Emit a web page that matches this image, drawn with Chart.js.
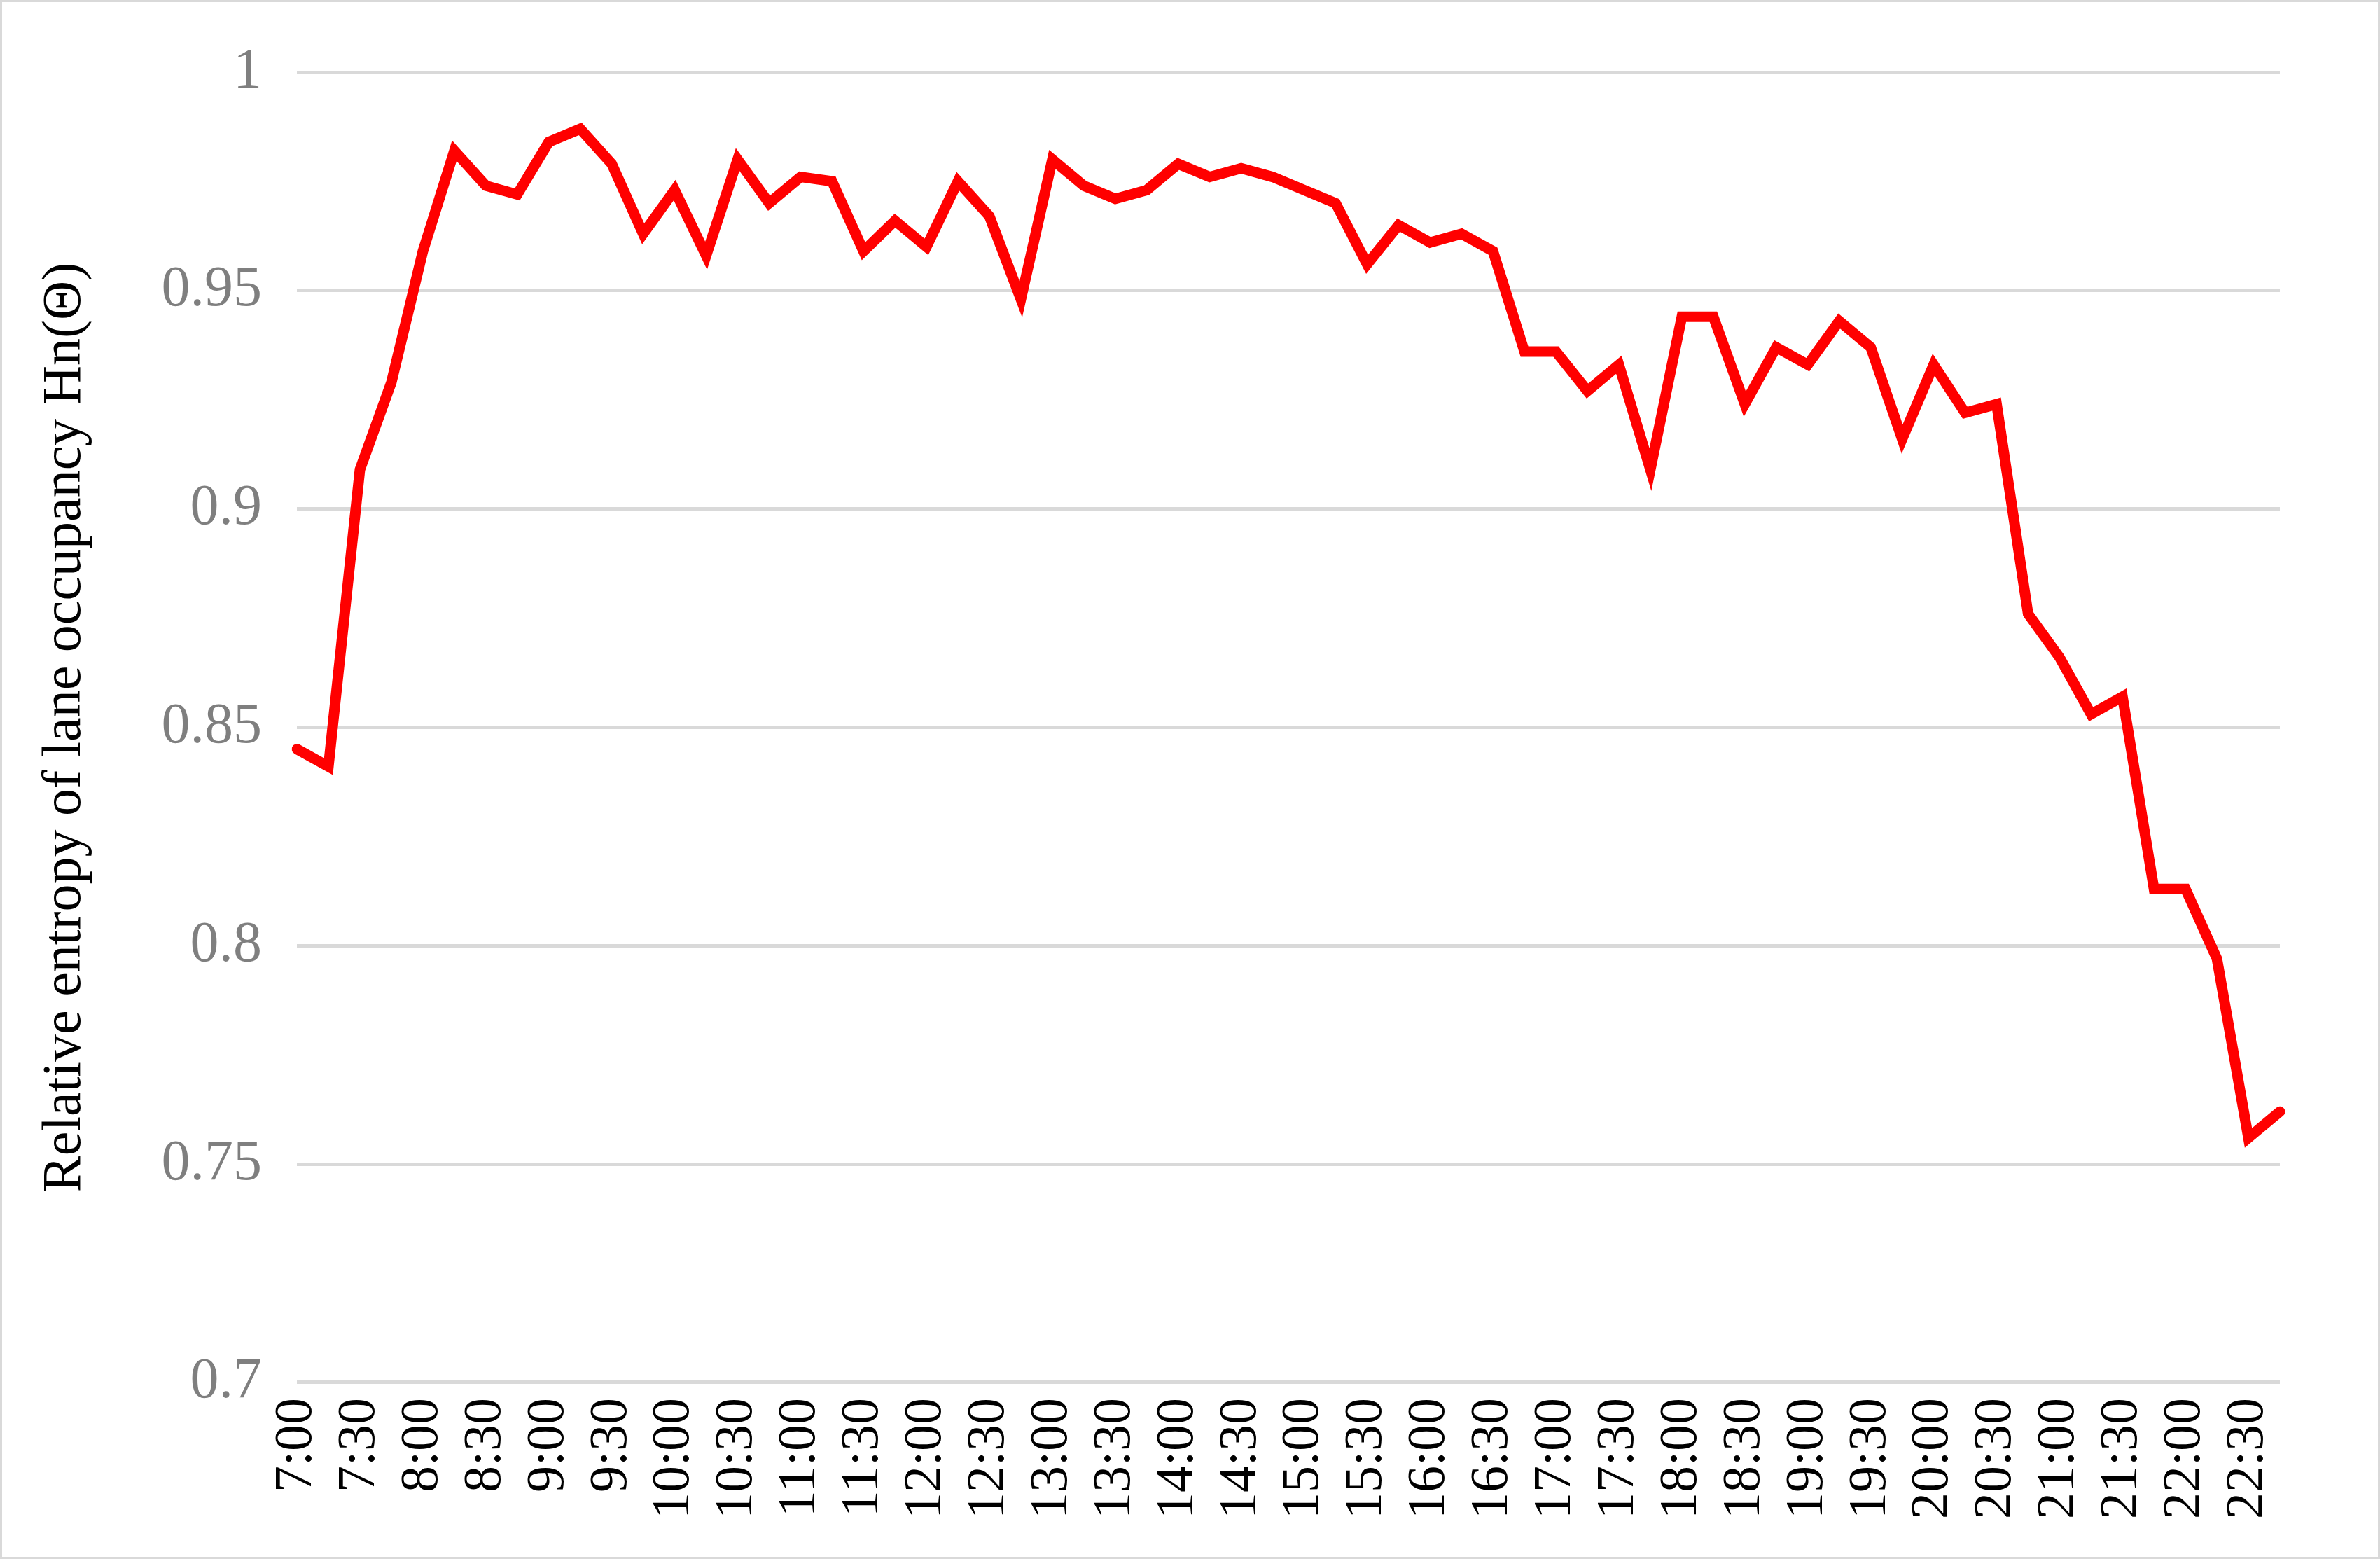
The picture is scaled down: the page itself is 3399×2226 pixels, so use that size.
<!DOCTYPE html>
<html><head><meta charset="utf-8">
<script src="https://cdn.jsdelivr.net/npm/chart.js@4/dist/chart.umd.min.js"></script>
<style>html,body{margin:0;padding:0;background:#fff}#wrap{position:absolute;left:0;top:0;width:3399px;height:2226px;box-sizing:border-box;border:3px solid #d9d9d9}</style>
</head><body><div id="wrap"><canvas id="c"></canvas></div>
<script>
const times = [];
for (let h = 7; h <= 22; h++) for (const m of ['00','15','30','45']) times.push(h + ':' + m);
const entropy = [0.845,0.841,0.909,0.929,0.959,0.982,0.974,0.972,0.984,0.987,0.979,0.963,0.973,0.958,0.980,0.970,
0.976,0.975,0.959,0.966,0.960,0.975,0.967,0.948,0.980,0.974,0.971,0.973,0.979,0.976,0.978,0.976,
0.973,0.970,0.956,0.965,0.961,0.963,0.959,0.936,0.936,0.927,0.933,0.909,0.944,0.944,0.924,0.937,
0.933,0.943,0.937,0.916,0.933,0.922,0.924,0.876,0.866,0.853,0.857,0.813,0.813,0.797,0.756,0.762];
const yTicks = [0.7,0.75,0.8,0.85,0.9,0.95,1];
new Chart(document.getElementById('c'), {
  type: 'line',
  data: { labels: times, datasets: [{ data: entropy, borderColor: '#ff0000', borderWidth: 15, pointRadius: 0, tension: 0, borderCapStyle:'round' }] },
  options: {
    responsive: true, maintainAspectRatio: false, animation: false,
    layout: { padding: { left: 40, right: 140, top: 100, bottom: 40 } },
    plugins: { legend: { display: false }, tooltip: { enabled: false } },
    scales: {
      x: {
        grid: { display: false }, border: { display: false },
        ticks: { autoSkip: false, maxRotation: 90, minRotation: 90, color: '#000', padding: 14,
          font: { family: 'Liberation Serif', size: 76 },
          callback: function(v, i) { return i % 2 === 0 ? times[i] : ''; } }
      },
      y: {
        min: 0.7, max: 1,
        afterBuildTicks: ax => { ax.ticks = yTicks.map(v => ({ value: v })); },
        grid: { color: '#d9d9d9', lineWidth: 5, drawTicks: false }, border: { display: false },
        ticks: { color: '#7f7f7f', padding: 50, font: { family: 'Liberation Serif', size: 82 },
          callback: v => String(v) },
        title: { display: true, text: 'Relative entropy of lane occupancy Hn(Θ)', color: '#000',
          font: { family: 'Liberation Serif', size: 78 }, padding: { bottom: 40 } }
      }
    }
  }
});
</script></body></html>
